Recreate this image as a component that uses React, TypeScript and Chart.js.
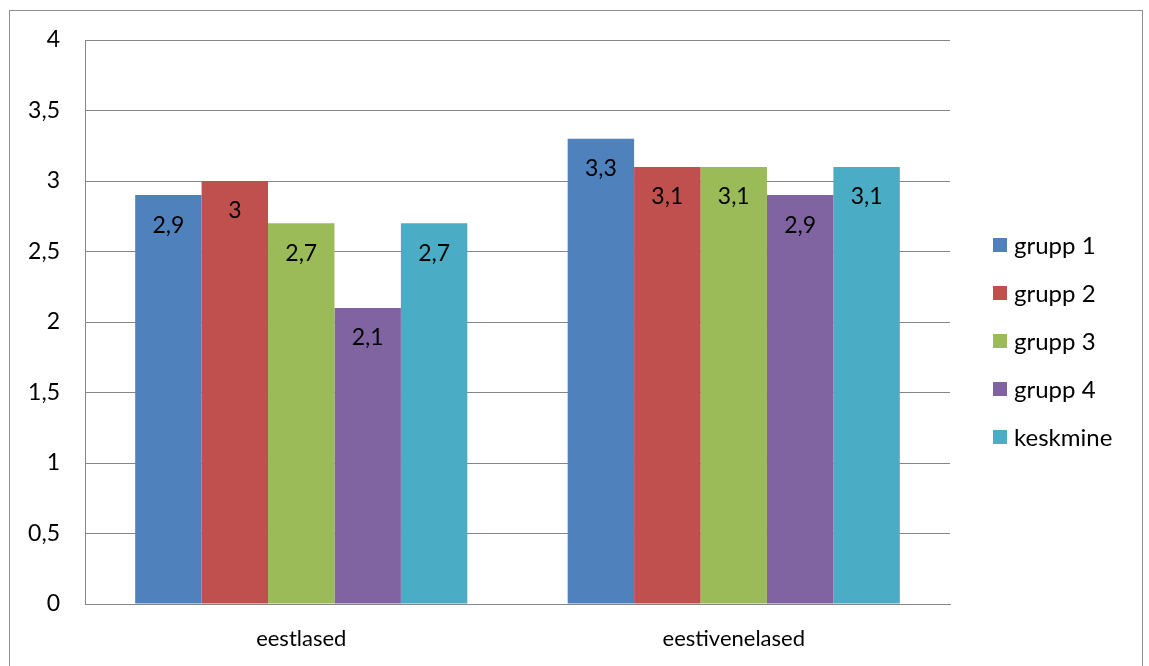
import React, { useEffect, useRef } from "react";
import { Chart, registerables } from "chart.js";

Chart.register(...registerables);

const categories = ["eestlased", "eestivenelased"];
const seriesNames = ["grupp 1", "grupp 2", "grupp 3", "grupp 4", "keskmine"];
const grupp1 = [2.9, 3.3];
const grupp2 = [3.0, 3.1];
const grupp3 = [2.7, 3.1];
const grupp4 = [2.1, 2.9];
const keskmine = [2.7, 3.1];
const seriesColors = ["#4F81BD", "#C0504D", "#9BBB59", "#8064A2", "#4BACC6"];
const yTicks = [0, 0.5, 1, 1.5, 2, 2.5, 3, 3.5, 4];

const FONT = "Lato, 'Open Sans', sans-serif";

const fmt = (v: number) => String(v).replace(".", ",");

const decorPlugin = {
  id: "decor",
  beforeDraw(chart: any) {
    const ctx = chart.ctx;
    ctx.save();
    ctx.fillStyle = "#ffffff";
    ctx.fillRect(0, 0, chart.width, chart.height);
    ctx.strokeStyle = "#8f8f8f";
    ctx.lineWidth = 1;
    ctx.strokeRect(9.5, 10.5, 1133, chart.height + 10);
    ctx.restore();
  },
  afterDatasetsDraw(chart: any) {
    const ctx = chart.ctx;
    ctx.save();
    ctx.font = `23px ${FONT}`;
    ctx.fillStyle = "#000000";
    ctx.textAlign = "center";
    ctx.textBaseline = "middle";
    chart.data.datasets.forEach((ds: any, i: number) => {
      const meta = chart.getDatasetMeta(i);
      meta.data.forEach((bar: any, j: number) => {
        ctx.fillText(fmt(ds.data[j]), bar.x, bar.y + 30);
      });
    });
    // legend
    const x0 = 993;
    const rows = [245, 293, 341, 389, 437];
    ctx.font = `24px ${FONT}`;
    ctx.textAlign = "left";
    chart.data.datasets.forEach((ds: any, i: number) => {
      const y = rows[i];
      ctx.fillStyle = ds.backgroundColor;
      ctx.fillRect(x0, y - 7, 14, 14);
      ctx.fillStyle = "#000000";
      ctx.fillText(ds.label, x0 + 21, y + 1);
    });
    ctx.restore();
  },
};

export default function App() {
  const ref = useRef<HTMLCanvasElement>(null);
  useEffect(() => {
    if (!ref.current) return;
    const values = [grupp1, grupp2, grupp3, grupp4, keskmine];
    const chart = new Chart(ref.current, {
      type: "bar",
      data: {
        labels: categories,
        datasets: seriesNames.map((name, i) => ({
          label: name,
          data: values[i],
          backgroundColor: seriesColors[i],
          borderWidth: 0,
          barPercentage: 1,
          categoryPercentage: 0.768,
        })),
      },
      options: {
        animation: false,
        responsive: false,
        maintainAspectRatio: false,
        devicePixelRatio: 1,
        layout: { padding: { left: 0, top: 40, right: 199, bottom: 0 } },
        plugins: { legend: { display: false }, tooltip: { enabled: false } },
        scales: {
          x: {
            grid: { display: false, drawTicks: false },
            border: { display: true, color: "#868686", width: 1 },
            ticks: { color: "#000", font: { family: FONT, size: 22 }, padding: 22 },
            afterFit: (s: any) => { s.height = 62; },
          },
          y: {
            min: 0,
            max: 4,
            afterBuildTicks: (s: any) => { s.ticks = yTicks.map((v) => ({ value: v })); },
            grid: { color: "#868686", lineWidth: 1, drawTicks: false },
            border: { display: true, color: "#868686", width: 1 },
            ticks: {
              color: "#000",
              font: { family: FONT, size: 23 },
              padding: 25,
              callback: (v: any) => fmt(Number(v)),
            },
            afterFit: (s: any) => { s.width = 85; },
          },
        },
      },
      plugins: [decorPlugin],
    });
    return () => chart.destroy();
  }, []);
  return (
    <div style={{ position: "absolute", left: 0, top: 0, width: 1149, height: 666, background: "#fff" }}>
      <canvas ref={ref} width={1149} height={666} style={{ width: 1149, height: 666, display: "block" }} />
    </div>
  );
}
